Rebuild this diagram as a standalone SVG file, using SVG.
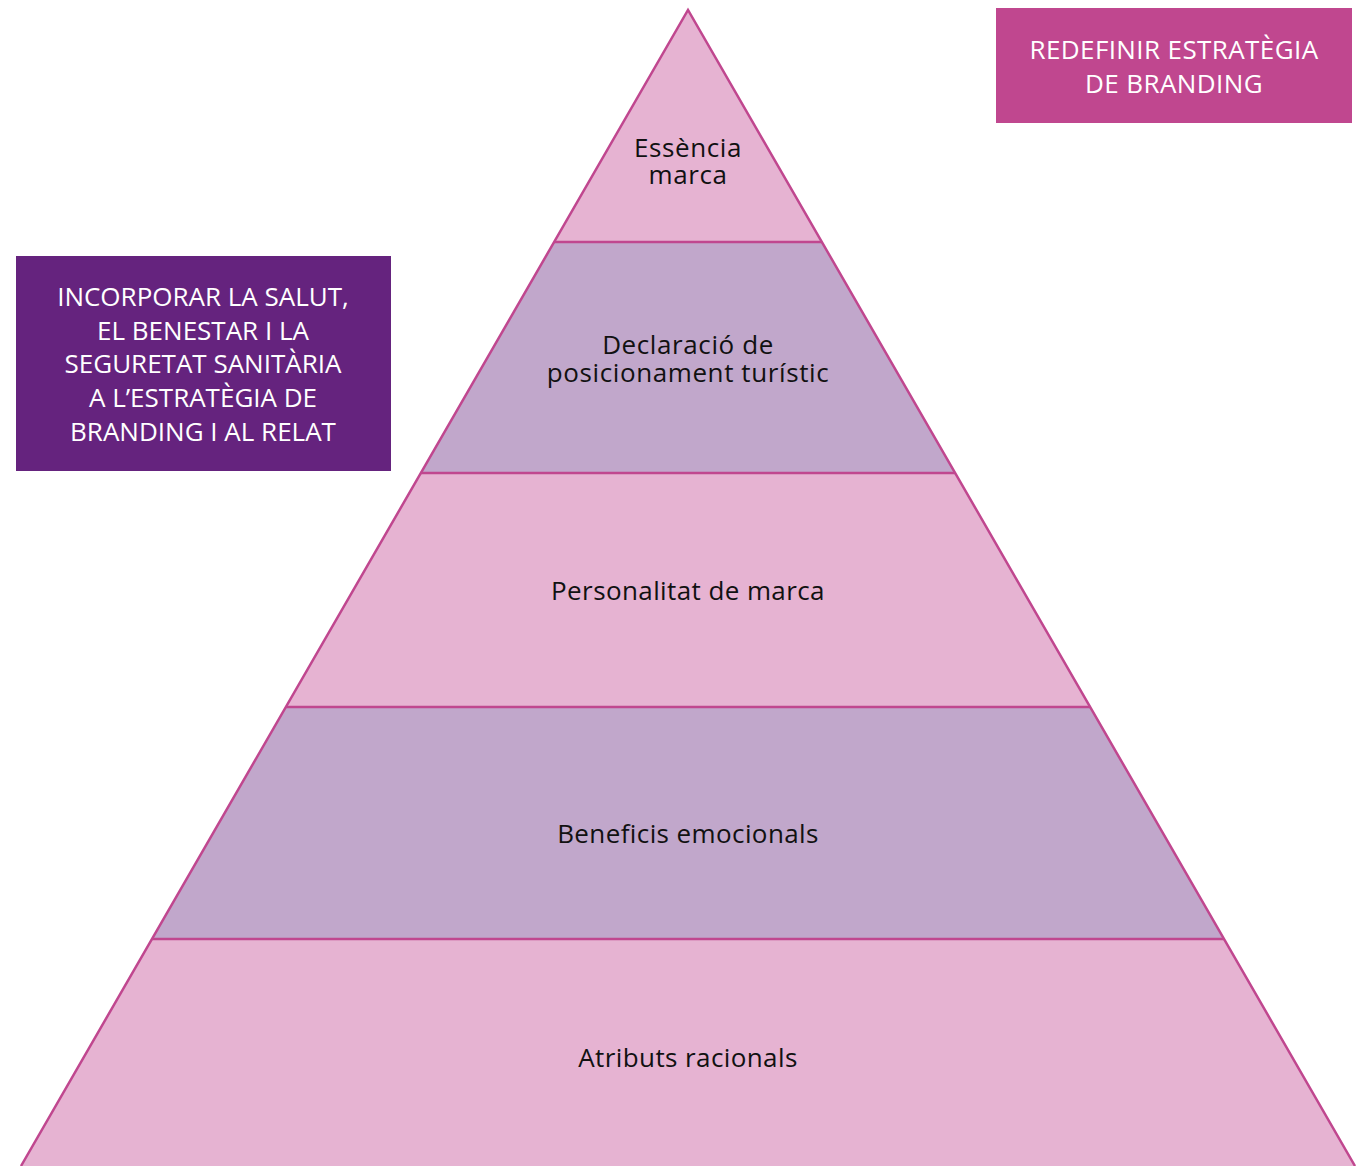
<svg xmlns="http://www.w3.org/2000/svg" width="1364" height="1166" viewBox="0 0 1364 1166">
<style>
.pink{fill:#e6b3d2}
.purp{fill:#c1a7cb}
.edge{fill:none;stroke:#c0478f;stroke-width:2.5}
.lbl{font-family:"Open Sans","DejaVu Sans",sans-serif;font-size:26px;letter-spacing:0.4px;fill:#111;text-anchor:middle}
.lbl2{font-family:"Open Sans","DejaVu Sans",sans-serif;font-size:26px;letter-spacing:0.6px;fill:#111;text-anchor:middle}
.wt{font-family:"Open Sans","DejaVu Sans",sans-serif;font-size:26px;fill:#fff;text-anchor:middle}
</style>
<rect width="1364" height="1166" fill="#fff"/>
<g id="layer1">
<polygon class="pink" points="688,10 822,242 554,242"/>
<text class="lbl2" x="688" y="157">Essència</text>
<text class="lbl2" x="688" y="184">marca</text>
</g>
<g id="layer2">
<polygon class="purp" points="554,242 822,242 955,473 421,473"/>
<text class="lbl2" x="688" y="354">Declaració de</text>
<text class="lbl2" x="688" y="382">posicionament turístic</text>
</g>
<g id="layer3">
<polygon class="pink" points="421,473 955,473 1090,707 286,707"/>
<text class="lbl" x="688" y="600">Personalitat de marca</text>
</g>
<g id="layer4">
<polygon class="purp" points="286,707 1090,707 1224,939 152,939"/>
<text class="lbl" x="688" y="843">Beneficis emocionals</text>
</g>
<g id="layer5">
<polygon class="pink" points="152,939 1224,939 1355,1166 21,1166"/>
<text class="lbl" x="688" y="1067">Atributs racionals</text>
</g>
<g id="connectors">
<polyline class="edge" points="21,1166 688,10 1355,1166"/>
<line class="edge" x1="554" y1="242" x2="822" y2="242"/>
<line class="edge" x1="421" y1="473" x2="955" y2="473"/>
<line class="edge" x1="286" y1="707" x2="1090" y2="707"/>
<line class="edge" x1="152" y1="939" x2="1224" y2="939"/>
</g>
<g id="box-redefinir">
<rect x="996" y="8" width="356" height="115" fill="#c0478f"/>
<text class="wt" x="1174" y="59" letter-spacing="0.4">REDEFINIR ESTRATÈGIA</text>
<text class="wt" x="1174" y="93" letter-spacing="0.4">DE BRANDING</text>
</g>
<g id="box-incorporar">
<rect x="16" y="256" width="375" height="215" fill="#65237e"/>
<text class="wt" x="203" y="306">INCORPORAR LA SALUT,</text>
<text class="wt" x="203" y="340">EL BENESTAR I LA</text>
<text class="wt" x="203" y="373">SEGURETAT SANITÀRIA</text>
<text class="wt" x="203" y="407">A L’ESTRATÈGIA DE</text>
<text class="wt" x="203" y="441">BRANDING I AL RELAT</text>
</g>
</svg>
